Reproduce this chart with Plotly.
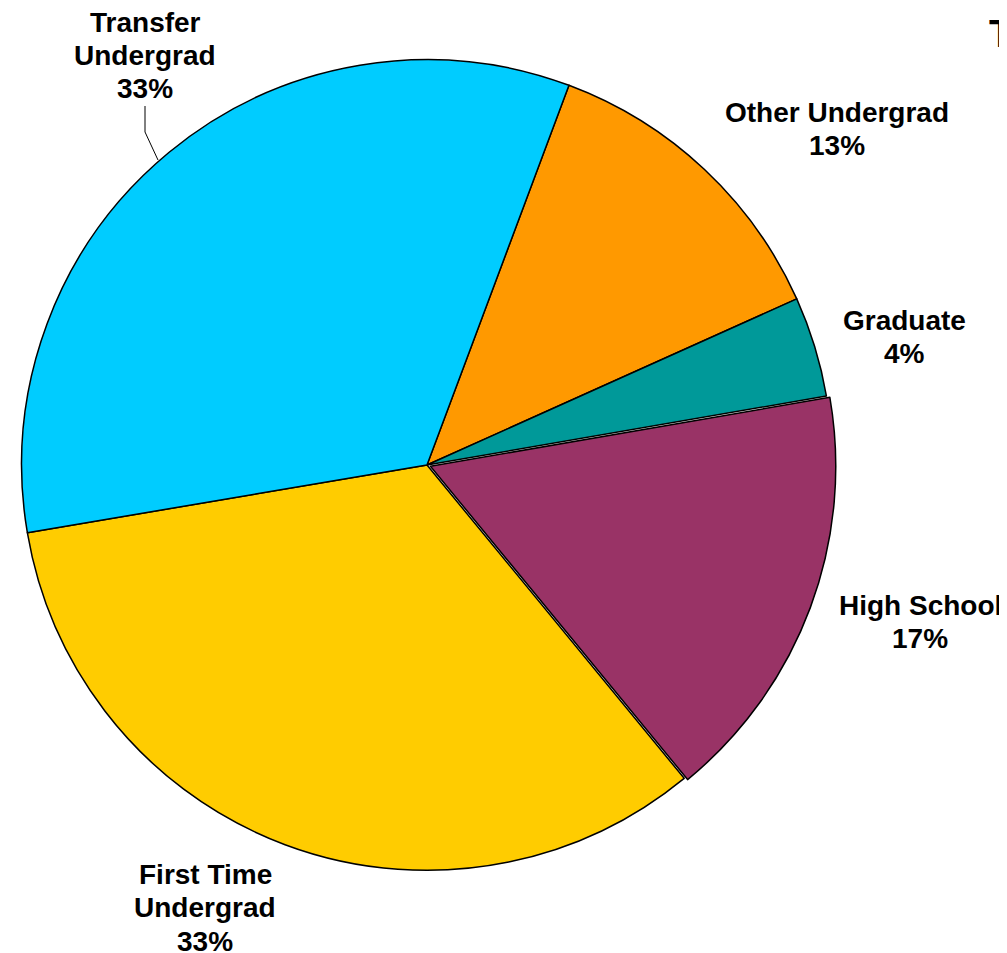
import plotly.graph_objects as go

# Data (clockwise from the top, starting with Other Undergrad)
categories = ["Other Undergrad", "Graduate", "High School", "First Time Undergrad", "Transfer Undergrad"]
label_lines = [["Other Undergrad"], ["Graduate"], ["High School"], ["First Time", "Undergrad"], ["Transfer", "Undergrad"]]
values = [12.6, 4.0, 16.8, 33.3, 33.4]
colors = ["#FF9900", "#009999", "#993366", "#FFCC00", "#00CCFF"]
pulls = [0, 0, 0.009, 0, 0]

W, H = 1007, 953
OFF = 8  # page body margin offset
# label line-1 cap centre (pixels on page) and line spacing
label_pos = [(837, 112), (904, 320), (920, 605), (205, 874), (145, 22)]
LINE = 33.5

cx, cy, r = 427 - OFF, 465 - OFF, 409

fig = go.Figure(go.Pie(
    labels=categories,
    values=values,
    marker=dict(colors=colors, line=dict(color="black", width=1.5)),
    sort=False,
    direction="clockwise",
    rotation=20.5,
    pull=pulls,
    textinfo="none",
    hoverinfo="skip",
    showlegend=False,
    domain=dict(x=[(cx - r) / W, (cx + r) / W], y=[(H - cy - r) / H, (H - cy + r) / H]),
))

def PX(x):
    return (x - OFF) / W

def PY(y):
    return 1 - (y - OFF) / H

FONT = dict(family="Liberation Sans, Arial, sans-serif", size=28, color="black", weight="bold")
total = sum(values)
annotations = []
for lines, v, (px, py) in zip(label_lines, values, label_pos):
    all_lines = lines + [f"{round(v / total * 100)}%"]
    for i, t in enumerate(all_lines):
        annotations.append(dict(
            text=t,
            x=PX(px), y=PY(py + i * LINE), xref="paper", yref="paper",
            xanchor="center", yanchor="middle", showarrow=False,
            font=FONT,
        ))
# clipped title fragment
annotations.append(dict(
    text="T", x=PX(1001), y=PY(34), xref="paper", yref="paper",
    xanchor="center", yanchor="middle", showarrow=False,
    font=dict(family="Liberation Sans, Arial, sans-serif", size=39, color="black", weight="bold"),
))

fig.update_layout(
    width=W, height=H,
    margin=dict(l=0, r=0, t=0, b=0),
    paper_bgcolor="white", plot_bgcolor="white",
    annotations=annotations,
    shapes=[dict(type="path", xref="paper", yref="paper",
                 path=f"M{PX(145)},{PY(106)} L{PX(145)},{PY(132)} L{PX(158)},{PY(160)}",
                 line=dict(color="black", width=1))],
)

fig.write_html("out.html")
